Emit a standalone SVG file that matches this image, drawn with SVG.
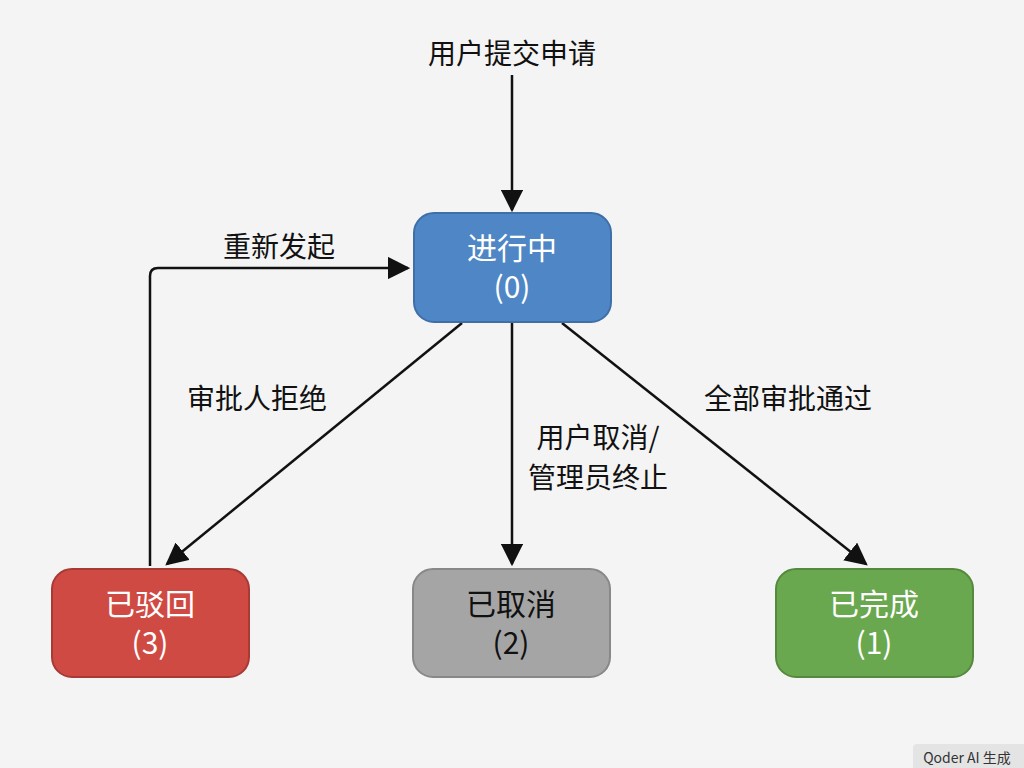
<svg xmlns="http://www.w3.org/2000/svg" width="1024" height="768" viewBox="0 0 1024 768">
<defs>
<style>
text{font-family:"Noto Sans CJK SC","Liberation Sans",sans-serif;text-anchor:middle}
.lbl{font-size:28px;fill:#111}
.nt{font-size:30px;fill:#fff}
.c{fill:none;stroke:#111;stroke-width:2.5}
</style>
<marker id="ah" viewBox="0 0 10 10" refX="9" refY="5" markerWidth="9" markerHeight="9" orient="auto"><path d="M0,0L10,5L0,10z" fill="#111"/></marker>
</defs>
<rect width="1024" height="768" fill="#f4f4f4"/>
<g id="connectors">
<path class="c" d="M512,75V210" marker-end="url(#ah)"/>
<path class="c" d="M462,323L167,564" marker-end="url(#ah)"/>
<path class="c" d="M512,323V564" marker-end="url(#ah)"/>
<path class="c" d="M562,323L866,564" marker-end="url(#ah)"/>
<path class="c" d="M150,566V276Q150,268 158,268H408" marker-end="url(#ah)"/>
<text class="lbl" x="512" y="64">用户提交申请</text>
<text class="lbl" x="279" y="257">重新发起</text>
<text class="lbl" x="257" y="409">审批人拒绝</text>
<text class="lbl" x="788" y="409">全部审批通过</text>
<text class="lbl" x="598" y="448">用户取消/</text>
<text class="lbl" x="598" y="488">管理员终止</text>
</g>
<g id="n0"><rect x="414" y="213" width="197" height="109" rx="20" fill="#4f86c6" stroke="#3f6fa8" stroke-width="2"/><text class="nt" x="512" y="259">进行中</text><text class="nt" x="512" y="298">(0)</text></g>
<g id="n3"><rect x="52" y="569" width="197" height="108" rx="20" fill="#d04a44" stroke="#a83a35" stroke-width="2"/><text class="nt" x="150" y="615">已驳回</text><text class="nt" x="150" y="654">(3)</text></g>
<g id="n2"><rect x="413" y="569" width="197" height="108" rx="20" fill="#a5a5a5" stroke="#888" stroke-width="2"/><text class="nt" x="511" y="615" style="fill:#111">已取消</text><text class="nt" x="511" y="654" style="fill:#111">(2)</text></g>
<g id="n1"><rect x="776" y="569" width="197" height="108" rx="20" fill="#6aa84f" stroke="#558a3e" stroke-width="2"/><text class="nt" x="874" y="615">已完成</text><text class="nt" x="874" y="654">(1)</text></g>
<g id="wm"><rect x="913" y="744" width="115" height="30" rx="4" fill="#e4e4e4"/><text x="967" y="763" style="font-size:14px;fill:#333">Qoder AI 生成</text></g>
</svg>
